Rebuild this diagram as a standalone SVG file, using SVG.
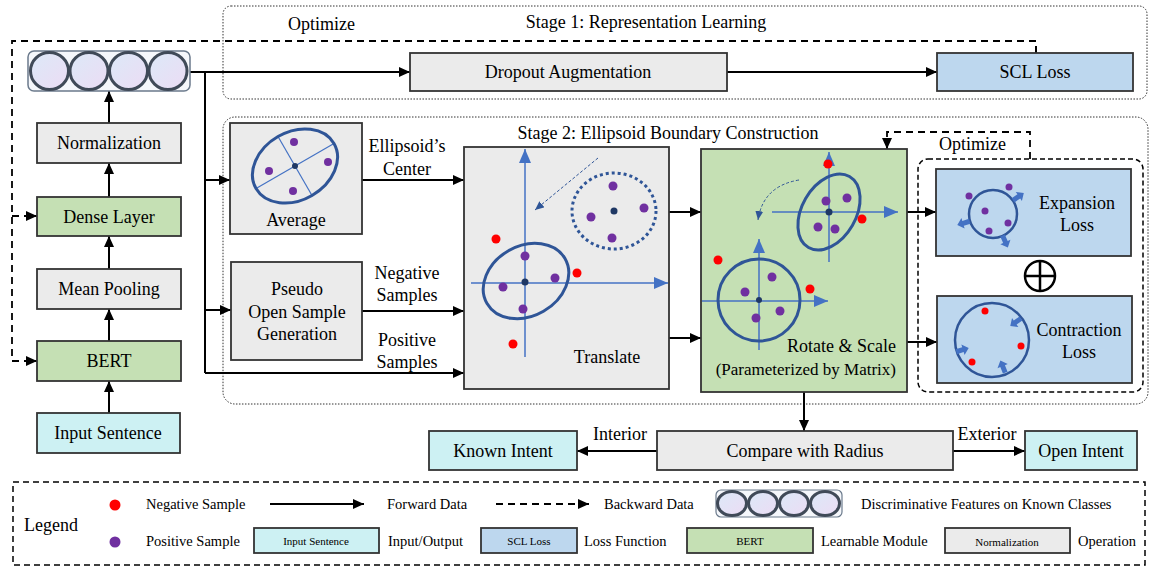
<svg xmlns="http://www.w3.org/2000/svg" width="1151" height="570" viewBox="0 0 1151 570">
<defs>
<marker id="ah" markerUnits="userSpaceOnUse" markerWidth="11" markerHeight="10" refX="11" refY="5" orient="auto"><path d="M0,0 L11,5 L0,10 z" fill="#000"/></marker>
<marker id="bh" markerUnits="userSpaceOnUse" markerWidth="14" markerHeight="12" refX="14" refY="6" orient="auto"><path d="M0,0 L14,6 L0,12 z" fill="#4472c4"/></marker>
<marker id="bs" markerUnits="userSpaceOnUse" markerWidth="9" markerHeight="8" refX="9" refY="4" orient="auto"><path d="M0,0 L9,4 L0,8 z" fill="#2f5597"/></marker>
<linearGradient id="fg" x1="0" y1="0" x2="1" y2="1"><stop offset="0" stop-color="#dce9f8"/><stop offset="1" stop-color="#ecdcf4"/></linearGradient>
<path id="blk" d="M-6,-2.5 L1,-2.5 L1,-5.5 L7,0 L1,5.5 L1,2.5 L-6,2.5 z" fill="#4472c4"/>
</defs>
<style>
text{font-family:"Liberation Serif","Times New Roman",serif;fill:#000}
.t{font-size:18px}
.c{text-anchor:middle}
.s{font-size:14.5px}
.xs{font-size:11px}
.op{fill:#ebebeb;stroke:#333;stroke-width:1.8}
.lm{fill:#c5e0b4;stroke:#333;stroke-width:1.8}
.lf{fill:#bdd7ee;stroke:#333;stroke-width:1.8}
.io{fill:#cdf1f3;stroke:#333;stroke-width:1.8}
.ln{fill:none;stroke:#000;stroke-width:2}
.arr{fill:none;stroke:#000;stroke-width:2;marker-end:url(#ah)}
.darr{fill:none;stroke:#000;stroke-width:1.8;stroke-dasharray:7,5}
.dot{fill:none;stroke:#333;stroke-width:1;stroke-dasharray:1.5,1.5}
.ax{stroke:#4472c4;stroke-width:1.5;fill:none;marker-end:url(#bh)}
.axl{stroke:#4472c4;stroke-width:1.2}
.el{fill:none;stroke:#2f5597;stroke-width:3}
.pp{fill:#7030a0}
.rd{fill:#ff0000}
.ct{fill:#1f3864}
.fc{fill:url(#fg);stroke:#404a58;stroke-width:3}
</style>

<!-- region boxes -->
<rect x="223" y="6" width="924" height="93" rx="8" class="dot"/>
<rect x="223" y="117" width="925" height="287" rx="12" class="dot"/>
<text class="t" x="288" y="30">Optimize</text>
<text class="t c" x="646" y="28">Stage 1: Representation Learning</text>
<text class="t c" x="668" y="139">Stage 2: Ellipsoid Boundary Construction</text>

<!-- connectors -->
<g id="connectors">
<path class="arr" d="M190,72 H410"/>
<path class="arr" d="M727,72 H937"/>
<path class="ln" d="M205,72 V373"/>
<path class="arr" d="M205,180 H230"/>
<path class="arr" d="M205,310 H231"/>
<path class="arr" d="M205,373 H464"/>
<path class="arr" d="M362,180 H464"/>
<path class="arr" d="M362,311 H464"/>
<path class="arr" d="M669,212 H701"/>
<path class="arr" d="M669,338 H701"/>
<path class="arr" d="M907,212 H936"/>
<path class="arr" d="M907,342 H937"/>
<path class="arr" d="M804,392 V431"/>
<path class="arr" d="M657,451 H577"/>
<path class="arr" d="M953,451 H1025"/>
<path class="arr" d="M109,413 V381"/>
<path class="arr" d="M109,341 V309"/>
<path class="arr" d="M109,269 V236"/>
<path class="arr" d="M109,197 V163"/>
<path class="arr" d="M109,123 V91"/>
<path class="ln" d="M1036,53 V46" stroke-width="1.8"/>
<path class="darr" d="M1036,41 H12 V361"/>
<path class="darr" d="M12,216 H26"/>
<path class="arr" d="M26,216 H37" stroke-width="1.8"/>
<path class="darr" d="M12,361 H26"/>
<path class="arr" d="M26,361 H37" stroke-width="1.8"/>
<path class="darr" d="M1030,159 V132 H887 V140"/>
<path class="arr" d="M887,138 V149" stroke-width="1.8"/>
<text class="t c" x="620" y="440">Interior</text>
<text class="t c" x="987" y="440">Exterior</text>
<text class="t c" x="407" y="152">Ellipsoid’s</text>
<text class="t c" x="407" y="175">Center</text>
<text class="t c" x="407" y="279">Negative</text>
<text class="t c" x="407" y="301">Samples</text>
<text class="t c" x="407" y="346">Positive</text>
<text class="t c" x="407" y="368">Samples</text>
<text class="t" x="939" y="150">Optimize</text>
</g>

<!-- feature vector -->
<g id="features">
<rect x="28" y="51" width="162" height="40" rx="6" fill="#f5f7fb" stroke="#6b7a8c" stroke-width="1.5"/>
<ellipse class="fc" cx="49.5" cy="71" rx="19" ry="18.5"/>
<ellipse class="fc" cx="89" cy="71" rx="19" ry="18.5"/>
<ellipse class="fc" cx="128.5" cy="71" rx="19" ry="18.5"/>
<ellipse class="fc" cx="168" cy="71" rx="19" ry="18.5"/>
</g>

<g id="normalization"><rect class="op" x="37" y="123" width="144" height="40"/><text class="t c" x="109" y="149">Normalization</text></g>
<g id="dense"><rect class="lm" x="37" y="197" width="144" height="39"/><text class="t c" x="109" y="223">Dense Layer</text></g>
<g id="meanpool"><rect class="op" x="37" y="269" width="144" height="40"/><text class="t c" x="109" y="295">Mean Pooling</text></g>
<g id="bert"><rect class="lm" x="37" y="341" width="144" height="40"/><text class="t c" x="109" y="367">BERT</text></g>
<g id="input"><rect class="io" x="37" y="413" width="143" height="40"/><text class="t c" x="108" y="439">Input Sentence</text></g>

<g id="dropout"><rect class="op" x="410" y="53" width="317" height="38"/><text class="t c" x="568" y="78">Dropout Augmentation</text></g>
<g id="scl"><rect class="lf" x="937" y="53" width="196" height="38"/><text class="t c" x="1035" y="78">SCL Loss</text></g>

<g id="average">
<rect class="op" x="230" y="123" width="132" height="111"/>
<g transform="translate(295,166) rotate(-30)">
<line class="axl" x1="-45" y1="0" x2="45" y2="0"/>
<line class="axl" x1="0" y1="-34" x2="0" y2="34"/>
<ellipse class="el" cx="0" cy="0" rx="45" ry="34"/>
</g>
<circle class="ct" cx="295" cy="166" r="3"/>
<circle class="pp" cx="294" cy="142" r="4"/>
<circle class="pp" cx="328" cy="162" r="4"/>
<circle class="pp" cx="269" cy="171" r="4"/>
<circle class="pp" cx="293" cy="191" r="4"/>
<text class="t c" x="296" y="226">Average</text>
</g>

<g id="pseudo">
<rect class="op" x="231" y="262" width="131" height="98"/>
<text class="t c" x="297" y="295">Pseudo</text>
<text class="t c" x="297" y="318">Open Sample</text>
<text class="t c" x="297" y="340">Generation</text>
</g>

<g id="translate">
<rect class="op" x="464" y="147" width="205" height="242"/>
<path class="ax" d="M525,357 V149"/>
<path class="ax" d="M471,283 H668"/>
<ellipse class="el" cx="0" cy="0" rx="45" ry="35" transform="translate(526,281) rotate(-30)"/>
<ellipse cx="614" cy="211" rx="42" ry="38" fill="none" stroke="#2f5597" stroke-width="3" stroke-dasharray="3,3"/>
<path d="M598,158 L535,210" fill="none" stroke="#2f5597" stroke-width="1" stroke-dasharray="3,2" marker-end="url(#bs)"/>
<circle class="ct" cx="525" cy="282" r="3.5"/>
<circle class="pp" cx="525" cy="256" r="4.5"/>
<circle class="pp" cx="555" cy="278" r="4.5"/>
<circle class="pp" cx="503" cy="287" r="4.5"/>
<circle class="pp" cx="523" cy="309" r="4.5"/>
<circle class="rd" cx="496" cy="239" r="4.5"/>
<circle class="rd" cx="577" cy="273" r="4.5"/>
<circle class="rd" cx="513" cy="344" r="4.5"/>
<circle class="ct" cx="614" cy="211" r="3.5"/>
<circle class="pp" cx="613" cy="186" r="4.5"/>
<circle class="pp" cx="644" cy="208" r="4.5"/>
<circle class="pp" cx="591" cy="217" r="4.5"/>
<circle class="pp" cx="612" cy="238" r="4.5"/>
<text class="t c" x="607" y="363">Translate</text>
</g>

<g id="rotate">
<rect class="lm" x="701" y="149" width="206" height="243"/>
<path class="ax" d="M829,262 V152"/>
<path class="ax" d="M772,212 H898"/>
<ellipse class="el" cx="0" cy="0" rx="41" ry="27" transform="translate(829,212) rotate(-60)"/>
<circle class="ct" cx="829" cy="212" r="3.5"/>
<circle class="pp" cx="826" cy="201" r="4.5"/>
<circle class="pp" cx="847" cy="198" r="4.5"/>
<circle class="pp" cx="818" cy="227" r="4.5"/>
<circle class="pp" cx="835" cy="229" r="4.5"/>
<circle class="rd" cx="828" cy="164" r="4.5"/>
<circle class="rd" cx="862" cy="219" r="4.5"/>
<path d="M799,180 Q763,186 758,220" fill="none" stroke="#2f5597" stroke-width="1" stroke-dasharray="3,2" marker-end="url(#bs)"/>
<path class="ax" d="M759,350 V239"/>
<path class="ax" d="M702,301 H828"/>
<circle class="el" cx="759" cy="300" r="41"/>
<circle class="ct" cx="759" cy="300" r="3"/>
<circle class="pp" cx="772" cy="277" r="4.5"/>
<circle class="pp" cx="745" cy="292" r="4.5"/>
<circle class="pp" cx="780" cy="311" r="4.5"/>
<circle class="pp" cx="756" cy="318" r="4.5"/>
<circle class="rd" cx="718" cy="260" r="4.5"/>
<circle class="rd" cx="810" cy="289" r="4.5"/>
<text class="t" x="896" y="352" text-anchor="end">Rotate &amp; Scale</text>
<text x="896" y="375" text-anchor="end" font-size="17">(Parameterized by Matrix)</text>
</g>

<g id="optimize-group">
<rect x="918" y="159" width="225" height="233" rx="10" fill="none" stroke="#000" stroke-width="1.5" stroke-dasharray="5,3"/>
<circle cx="1040" cy="276" r="15" fill="none" stroke="#000" stroke-width="2.5"/>
<path d="M1025,276 H1055 M1040,261 V291" stroke="#000" stroke-width="2.5"/>
</g>

<g id="expansion">
<rect class="lf" x="936" y="169" width="195" height="87"/>
<circle cx="993" cy="214" r="24" fill="none" stroke="#2f5597" stroke-width="2.5"/>
<circle class="pp" cx="969" cy="196" r="3.5"/>
<circle class="pp" cx="1009" cy="187" r="3.5"/>
<circle class="pp" cx="985" cy="211" r="3.5"/>
<circle class="pp" cx="1008" cy="223" r="3.5"/>
<circle class="pp" cx="989" cy="231" r="3.5"/>
<use href="#blk" transform="translate(1018,197) rotate(-34)"/>
<use href="#blk" transform="translate(964,223) rotate(163)"/>
<use href="#blk" transform="translate(1005,241) rotate(66)"/>
<text class="t c" x="1077" y="209">Expansion</text>
<text class="t c" x="1077" y="231">Loss</text>
</g>

<g id="contraction">
<rect class="lf" x="937" y="296" width="195" height="87"/>
<circle cx="992" cy="340" r="37" fill="none" stroke="#2f5597" stroke-width="2.5"/>
<circle class="rd" cx="985" cy="311" r="3.5"/>
<circle class="rd" cx="1021" cy="346" r="3.5"/>
<circle class="rd" cx="972" cy="362" r="3.5"/>
<use href="#blk" transform="translate(1016,322) rotate(145)"/>
<use href="#blk" transform="translate(962,350) rotate(-17)"/>
<use href="#blk" transform="translate(1003,367) rotate(-112)"/>
<text class="t c" x="1079" y="336">Contraction</text>
<text class="t c" x="1079" y="358">Loss</text>
</g>

<g id="compare"><rect class="op" x="657" y="431" width="296" height="39"/><text class="t c" x="805" y="457">Compare with Radius</text></g>
<g id="known"><rect class="io" x="429" y="431" width="148" height="39"/><text class="t c" x="503" y="457">Known Intent</text></g>
<g id="open"><rect class="io" x="1025" y="431" width="112" height="39"/><text class="t c" x="1081" y="457">Open Intent</text></g>

<g id="legend">
<rect x="13" y="482" width="1132" height="83" fill="none" stroke="#000" stroke-width="1.5" stroke-dasharray="6,4"/>
<text class="t" x="24" y="531">Legend</text>
<circle class="rd" cx="115" cy="505" r="5.5"/>
<circle class="pp" cx="115" cy="542" r="5.5"/>
<text class="s" x="146" y="509">Negative Sample</text>
<text class="s" x="146" y="546">Positive Sample</text>
<path class="arr" d="M270,504 H364"/>
<text class="s" x="387" y="509">Forward Data</text>
<path class="darr" d="M496,504 H580" stroke-dasharray="6,4"/>
<path class="arr" d="M580,504 H589" stroke-width="1.8"/>
<text class="s" x="604" y="509">Backward Data</text>
<rect x="716" y="490" width="126" height="27" rx="5" fill="#f5f7fb" stroke="#6b7a8c" stroke-width="1.2"/>
<ellipse class="fc" cx="732" cy="503.5" rx="14.5" ry="12" stroke-width="2.5"/>
<ellipse class="fc" cx="763" cy="503.5" rx="14.5" ry="12" stroke-width="2.5"/>
<ellipse class="fc" cx="794" cy="503.5" rx="14.5" ry="12" stroke-width="2.5"/>
<ellipse class="fc" cx="825" cy="503.5" rx="14.5" ry="12" stroke-width="2.5"/>
<text class="s" x="861" y="509">Discriminative Features on Known Classes</text>
<rect class="io" x="254" y="528" width="125" height="25" stroke-width="1.5"/>
<text class="xs c" x="316" y="545">Input Sentence</text>
<text class="s" x="388" y="546">Input/Output</text>
<rect class="lf" x="481" y="528" width="96" height="25" stroke-width="1.5"/>
<text class="xs c" x="529" y="545">SCL Loss</text>
<text class="s" x="584" y="546">Loss Function</text>
<rect class="lm" x="687" y="528" width="126" height="25" stroke-width="1.5"/>
<text class="xs c" x="750" y="545">BERT</text>
<text class="s" x="821" y="546">Learnable Module</text>
<rect class="op" x="945" y="528" width="125" height="25" stroke-width="1.5"/>
<text class="xs c" x="1007" y="546">Normalization</text>
<text class="s" x="1078" y="546">Operation</text>
</g>
</svg>
